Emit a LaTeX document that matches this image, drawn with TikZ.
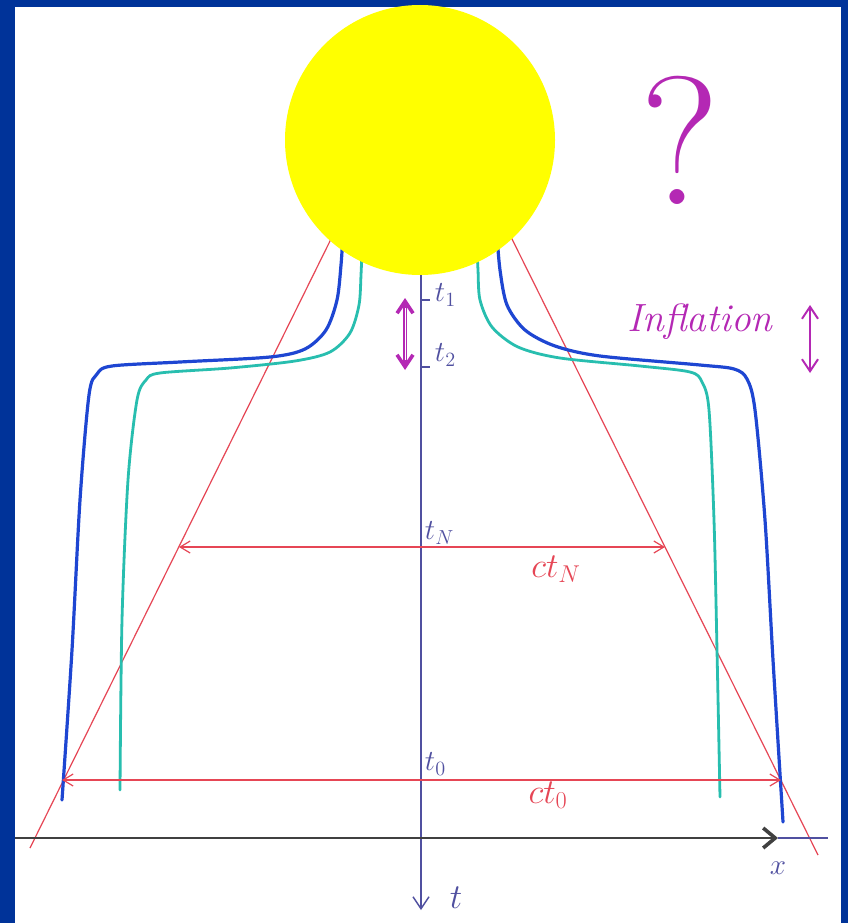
\documentclass[tikz,border=0pt]{standalone}
\usetikzlibrary{arrows.meta}
\definecolor{frameblue}{RGB}{0,51,153}
\definecolor{sunyellow}{RGB}{255,255,0}
\definecolor{wblue}{RGB}{30,70,210}
\definecolor{wcyan}{RGB}{40,190,175}
\definecolor{lightred}{RGB}{230,70,85}
\definecolor{axisblue}{RGB}{80,80,160}
\definecolor{inkpurple}{RGB}{180,40,180}
\tikzset{
  axis/.style={axisblue, line width=0.35mm},
  light/.style={lightred, line width=0.3mm},
  world/.style={wblue, line width=0.8mm, line cap=round},
  worldc/.style={wcyan, line width=0.7mm, line cap=round},
  span/.style={light, {Straight Barb[length=2.5mm,width=3mm]}-{Straight Barb[length=2.5mm,width=3mm]}},
  infl/.style={inkpurple, {Straight Barb[length=3mm,width=4mm]}-{Straight Barb[length=3mm,width=4mm]}},
  tlab/.style={axisblue, font=\fontsize{22}{22}\selectfont},
  clab/.style={lightred, font=\fontsize{27}{27}\selectfont},
}
\begin{document}
\begin{tikzpicture}[x=0.25mm, y=-0.25mm]
  % frame
  \fill[frameblue] (0,0) rectangle (848,923);
  \fill[white] (15,7) rectangle (841,923);

  % light cone
  \coordinate (lbot) at (30,848);
  \coordinate (ltop) at (333,235);
  \coordinate (rbot) at (818,855);
  \coordinate (rtop) at (510,235);
  \draw[light] (lbot) -- (ltop);
  \draw[light] (rbot) -- (rtop);

  % axes
  \coordinate (tstart) at (421,270);
  \coordinate (tend) at (421,910);
  \coordinate (xstart) at (15,838);
  \coordinate (xtip) at (778,838);
  \coordinate (xend) at (828,838);
  \draw[axis, -{Straight Barb[length=3mm,width=4mm]}] (tstart) -- (tend);
  \draw[axis, -{Straight Barb[length=3mm,width=5mm,line width=0.9mm]}, black!75] (xstart) -- (xtip);
  \draw[axis] (xtip) -- (xend);
  \node[axisblue, font=\fontsize{22}{22}\selectfont] (xlab) at (778,868) {$x$};
  \node[axisblue, font=\fontsize{32}{32}\selectfont] (tlab) at (456,898) {$t$};

  % ticks
  \coordinate (t1) at (421,300);
  \coordinate (t2) at (421,367);
  \draw[axis] (t1) -- ++(9,0);
  \draw[axis] (t2) -- ++(9,0);
  \node[tlab, anchor=west] (t1lab) at (430,295) {$t_1$};
  \node[tlab, anchor=west] (t2lab) at (430,355) {$t_2$};

  % worlds (outer)
  \draw[world] plot[smooth, tension=0.5] coordinates {(343,235) (341,265) (337,300) (326,330) (305,349) (270,357) (180,362) (112,366) (97,374) (89,395) (80,500) (72,650) (62,800)};
  \draw[world] plot[smooth, tension=0.5] coordinates {(497,235) (500,270) (507,305) (525,330) (555,346) (600,356) (700,365) (734,369) (747,379) (755,410) (765,520) (773,660) (783,822)};

  % worlds (inner)
  \draw[worldc] plot[smooth, tension=0.5] coordinates {(362,250) (361,275) (359,305) (350,333) (330,352) (295,361) (230,368) (160,373) (146,380) (137,400) (128,480) (122,620) (120,790)};
  \draw[worldc] plot[smooth, tension=0.5] coordinates {(477,250) (478,270) (480,300) (492,327) (518,347) (560,358) (640,366) (690,372) (702,382) (709,410) (714,520) (717,650) (720,797)};

  % horizons
  \coordinate (nl) at (179,547);
  \coordinate (nr) at (665,547);
  \coordinate (ol) at (62,780);
  \coordinate (or) at (781,780);
  \draw[span] (nl) -- (nr);
  \draw[span] (ol) -- (or);
  \node[tlab, anchor=west] (tNlab) at (420,533) {$t_N$};
  \node[clab] (ctNlab) at (556,569) {$ct_N$};
  \node[tlab, anchor=west] (t0lab) at (420,764) {$t_0$};
  \node[clab] (ct0lab) at (548,795) {$ct_0$};

  % inflation
  \coordinate (ia) at (405,298);
  \coordinate (ib) at (405,370);
  \draw[infl, line width=0.9mm] (ia) -- (ib);
  \draw[white, line width=0.25mm, shorten <=2.5mm, shorten >=2.5mm] (ia) -- (ib);
  \coordinate (ja) at (810,305);
  \coordinate (jb) at (810,373);
  \draw[infl, line width=0.5mm] (ja) -- (jb);
  \node[inkpurple, font=\itshape\fontsize{28}{28}\selectfont] (infllab) at (700,322) {Inflation};
  \node[inkpurple, font=\fontsize{130}{130}\selectfont] (qmark) at (680,140) {?};

  % big bang
  \fill[sunyellow] (420,140) circle (135);
\end{tikzpicture}
\end{document}
